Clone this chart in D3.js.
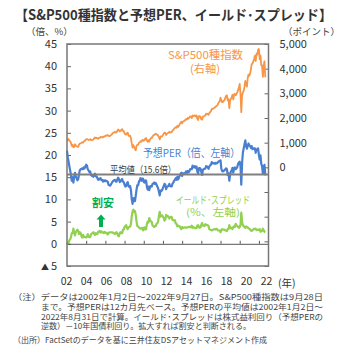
<!DOCTYPE html>
<html>
<head>
<meta charset="utf-8">
<title>S&P500 PER Yield Spread</title>
<style>
  body { margin: 0; background: #fff; }
  svg text { font-family: "Noto Sans CJK JP", "Noto Sans", sans-serif; }
</style>
</head>
<body>
<svg width="343" height="357"></svg>
<script src="https://cdn.jsdelivr.net/npm/d3@7/dist/d3.min.js"></script>
<script>
// monthly values, Jan 2002 .. Sep 2022
const spx = [
  1130, 1107, 1147, 1077, 1067, 990, 870, 916, 815, 820, 936, 880,
  856, 841, 830, 917, 964, 975, 990, 1008, 996, 1051, 1058, 1112,
  1131, 1145, 1126, 1107, 1121, 1141, 1102, 1104, 1115, 1130, 1174, 1212,
  1181, 1204, 1181, 1157, 1192, 1191, 1234, 1220, 1229, 1207, 1249, 1248,
  1280, 1281, 1295, 1311, 1270, 1270, 1277, 1304, 1336, 1378, 1401, 1418,
  1438, 1407, 1421, 1482, 1531, 1503, 1455, 1474, 1527, 1549, 1481, 1468,
  1379, 1331, 1323, 1386, 1400, 1280, 1267, 1283, 1166, 969, 800, 903,
  826, 735, 690, 873, 919, 919, 987, 1021, 1057, 1036, 1096, 1115,
  1074, 1104, 1169, 1187, 1089, 1031, 1102, 1049, 1141, 1183, 1181, 1258,
  1286, 1327, 1326, 1364, 1345, 1321, 1292, 1219, 1131, 1253, 1247, 1258,
  1312, 1366, 1408, 1398, 1310, 1362, 1379, 1407, 1441, 1412, 1416, 1426,
  1498, 1515, 1569, 1598, 1631, 1606, 1686, 1633, 1682, 1757, 1806, 1848,
  1783, 1859, 1872, 1884, 1924, 1960, 1931, 2003, 1972, 2018, 2068, 2059,
  1995, 2105, 2068, 2086, 2107, 2063, 2104, 1972, 1920, 2079, 2080, 2044,
  1940, 1932, 2060, 2065, 2097, 2099, 2174, 2171, 2168, 2126, 2199, 2239,
  2279, 2364, 2363, 2384, 2412, 2423, 2470, 2472, 2519, 2575, 2648, 2674,
  2824, 2714, 2641, 2648, 2705, 2718, 2816, 2902, 2914, 2712, 2760, 2400,
  2704, 2784, 2834, 2946, 2752, 2942, 2980, 2926, 2977, 3038, 3141, 3231,
  3380, 2954, 2237, 2912, 3044, 3100, 3271, 3500, 3363, 3270, 3622, 3756,
  3714, 3811, 3973, 4181, 4204, 4298, 4395, 4523, 4308, 4605, 4567, 4766,
  4796, 4374, 4530, 4132, 4132, 3667, 4130, 4300, 3650
];

const per = [
  21.0, 19.5, 18.5, 17.5, 16.5, 15.5, 14.2, 15.0, 13.8, 15.0, 16.0, 15.2,
  14.8, 14.3, 14.5, 15.5, 16.5, 16.8, 16.8, 17.0, 16.8, 17.2, 17.0, 17.4,
  17.8, 17.6, 16.8, 16.5, 16.2, 16.3, 15.5, 15.3, 15.3, 15.1, 15.4, 15.8,
  15.2, 15.2, 14.8, 14.4, 14.7, 14.5, 14.8, 14.4, 14.4, 14.0, 14.3, 14.1,
  14.3, 14.1, 14.1, 14.0, 13.3, 13.2, 13.1, 13.4, 13.7, 14.0, 14.2, 14.3,
  14.4, 14.0, 14.0, 14.5, 14.9, 14.6, 13.9, 14.0, 14.4, 14.6, 14.0, 13.9,
  13.3, 12.9, 13.0, 13.6, 13.9, 13.0, 12.8, 13.0, 12.0, 10.0, 9.0, 10.2,
  10.3, 9.6, 10.8, 12.2, 13.2, 13.2, 14.0, 14.3, 14.8, 14.2, 14.6, 14.7,
  13.9, 13.8, 14.3, 14.2, 12.8, 12.2, 12.9, 12.1, 12.9, 13.0, 12.9, 13.5,
  13.6, 13.8, 13.5, 13.7, 13.3, 12.9, 12.5, 11.7, 10.9, 12.0, 11.9, 12.1,
  12.6, 13.0, 13.5, 13.3, 12.3, 12.8, 12.9, 13.1, 13.5, 13.0, 12.9, 12.9,
  13.6, 13.8, 14.2, 14.4, 14.8, 14.4, 15.1, 14.5, 14.9, 15.4, 15.8, 16.0,
  15.3, 15.9, 15.8, 15.8, 16.0, 16.3, 16.0, 16.4, 16.1, 16.3, 16.8, 16.8,
  16.8, 17.6, 17.3, 17.2, 17.5, 17.1, 17.4, 16.3, 15.8, 17.0, 17.1, 16.9,
  16.2, 15.5, 16.7, 16.8, 16.9, 16.9, 17.5, 17.4, 17.3, 16.9, 17.4, 17.7,
  17.8, 18.4, 18.1, 18.1, 18.2, 18.0, 18.2, 18.1, 18.2, 18.4, 18.6, 18.6,
  18.8, 16.9, 16.4, 16.3, 16.5, 16.5, 16.8, 17.0, 16.8, 15.5, 15.9, 14.2,
  15.6, 16.3, 16.5, 17.1, 16.0, 17.0, 17.2, 16.8, 17.0, 17.3, 18.0, 18.3,
  18.5, 17.4, 13.3, 18.2, 20.5, 21.5, 22.4, 23.3, 22.0, 21.4, 22.0, 22.6,
  22.2, 22.0, 21.6, 22.0, 21.3, 21.5, 21.4, 21.5, 20.5, 21.3, 21.3, 21.5,
  20.0, 19.0, 19.9, 18.0, 17.5, 15.8, 17.3, 17.8, 15.4
];

const spread = [
  -0.2, 0.3, 0.2, 0.8, 1.0, 1.5, 2.4, 2.4, 3.4, 2.5, 1.9, 2.6,
  2.9, 3.2, 2.9, 2.2, 2.6, 2.5, 1.8, 1.4, 2.0, 1.5, 1.6, 1.5,
  1.4, 1.6, 2.2, 1.6, 1.5, 1.5, 2.1, 2.3, 2.4, 2.6, 2.3, 2.0,
  2.4, 2.2, 2.2, 2.7, 2.8, 2.9, 2.5, 2.8, 2.6, 2.6, 2.4, 2.7,
  2.5, 2.5, 2.3, 2.1, 2.5, 2.5, 2.6, 2.6, 2.6, 2.5, 2.5, 2.3,
  2.2, 2.5, 2.6, 2.3, 1.8, 1.7, 2.4, 2.6, 2.4, 2.4, 3.2, 3.2,
  3.8, 4.0, 4.2, 3.6, 3.3, 3.7, 3.8, 3.9, 4.5, 6.2, 7.3, 7.7,
  7.2, 7.4, 6.5, 5.0, 4.0, 3.9, 3.7, 3.5, 3.4, 3.5, 3.6, 3.0,
  3.6, 3.7, 3.2, 3.3, 4.5, 5.0, 4.8, 5.8, 5.2, 5.1, 4.9, 4.1,
  4.0, 3.8, 4.0, 4.0, 4.5, 4.6, 5.0, 6.3, 7.2, 6.1, 6.3, 6.4,
  6.1, 5.8, 5.2, 5.5, 6.5, 6.2, 6.3, 6.0, 5.7, 6.0, 6.1, 6.0,
  5.4, 5.3, 5.2, 5.3, 4.6, 4.5, 3.9, 4.1, 4.0, 3.9, 3.6, 3.3,
  3.8, 3.6, 3.6, 3.7, 3.7, 3.6, 3.7, 3.7, 3.8, 3.8, 3.7, 3.8,
  4.1, 3.6, 3.8, 3.7, 3.5, 3.5, 3.5, 4.1, 4.2, 3.7, 3.6, 3.7,
  4.3, 4.7, 4.1, 4.1, 4.0, 4.4, 4.3, 4.2, 4.2, 4.0, 3.3, 3.2,
  3.1, 3.0, 3.1, 3.2, 3.3, 3.3, 3.2, 3.4, 3.2, 3.0, 3.0, 3.0,
  2.6, 3.1, 3.3, 3.2, 3.2, 3.2, 3.0, 3.0, 2.9, 3.3, 3.3, 4.2,
  3.7, 3.5, 3.6, 3.3, 3.8, 3.9, 3.8, 4.5, 4.2, 4.0, 3.8, 3.6,
  3.8, 4.3, 7.0, 4.9, 4.2, 3.9, 3.9, 3.6, 3.9, 3.8, 3.7, 3.5,
  3.4, 3.2, 3.0, 2.9, 3.1, 3.2, 3.4, 3.3, 3.4, 3.1, 3.2, 3.1,
  3.2, 3.3, 2.7, 2.8, 2.9, 3.4, 3.1, 2.7, 2.6
];

const avgPer = 15.6;
const leftTicks = [45, 40, 35, 30, 25, 20, 15, 10, 5, 0, -5];
const rightTicks = [5000, 4000, 3000, 2000, 1000, 0];
const rightMinor = [-1000, -2000, -3000, -4000];
const yearTicks = [2004, 2006, 2008, 2010, 2012, 2014, 2016, 2018, 2020, 2022];
const yearLabels = ["02", "04", "06", "08", "10", "12", "14", "16", "18", "20", "22"];

const notes = [
  "（注）データは2002年1月2日～2022年9月27日。S&P500種指数は9月28日",
  "まで。予想PERは12カ月先ベース。予想PERの平均値は2002年1月2日～",
  "2022年8月31日で計算。イールド･スプレッドは株式益利回り（予想PERの",
  "逆数）－10年国債利回り。拡大すれば割安と判断される。",
  "（出所）FactSetのデータを基に三井住友DSアセットマネジメント作成"
];

const svg = d3.select("svg");
const plot = {left: 67, right: 268.5, top: 44, bottom: 266};

const toSeries = arr => arr.map((v, i) => ({date: new Date(2002, i, 1), v: v}));

const x = d3.scaleTime()
  .domain([new Date(2002, 0, 1), new Date(2023, 0, 1)])
  .range([plot.left, plot.right]);
const yL = d3.scaleLinear().domain([-5, 45]).range([plot.bottom, plot.top]);
const yR = d3.scaleLinear().domain([-4000, 5000]).range([plot.bottom, plot.top]);
const xLab = d3.scalePoint().domain(yearLabels).range([66, 266]);

// title + units
svg.append("text")
  .attr("x", 15).attr("y", 19.5)
  .attr("font-size", 14).attr("font-weight", "bold").attr("fill", "#333")
  .attr("textLength", 317).attr("lengthAdjust", "spacingAndGlyphs")
  .text("【S&P500種指数と予想PER、イールド･スプレッド】");
svg.append("text").attr("x", 26).attr("y", 34.5)
  .attr("font-size", 9.5).attr("fill", "#444").text("（倍、%）");
svg.append("text").attr("x", 283).attr("y", 34.5)
  .attr("font-size", 9.5).attr("fill", "#444").text("（ポイント）");

// left axis labels + inward ticks
const axL = svg.append("g").attr("transform", `translate(${plot.left},0)`)
  .call(d3.axisLeft(yL).tickValues(leftTicks).tickSize(0).tickPadding(10)
    .tickFormat(d => d < 0 ? "▲" + Math.abs(d) : d));
axL.select(".domain").remove();
axL.selectAll("text").attr("font-size", 11).attr("fill", "#333")
  .attr("font-family", "Noto Sans CJK JP");
axL.selectAll(".tick").filter(d => d < 0).select("text")
  .text(null)
  .call(t => t.append("tspan").attr("font-size", 8).text("▲ "))
  .call(t => t.append("tspan").text("5"));

const tkL = svg.append("g").attr("transform", `translate(${plot.left},0)`)
  .call(d3.axisRight(yL).tickValues(leftTicks).tickSize(4).tickFormat(""));
tkL.select(".domain").remove();
tkL.selectAll("line").attr("stroke", "#666");

// right axis labels + inward ticks
const axR = svg.append("g").attr("transform", `translate(${plot.right},0)`)
  .call(d3.axisRight(yR).tickValues(rightTicks).tickSize(0).tickPadding(11)
    .tickFormat(d3.format(",")));
axR.select(".domain").remove();
axR.selectAll("text").attr("font-size", 11).attr("fill", "#333")
  .attr("font-family", "Noto Sans CJK JP");

const tkR = svg.append("g").attr("transform", `translate(${plot.right},0)`)
  .call(d3.axisLeft(yR).tickValues(rightTicks.concat(rightMinor)).tickSize(4).tickFormat(""));
tkR.select(".domain").remove();
tkR.selectAll("line").attr("stroke", "#666");

// year labels
const axX = svg.append("g").attr("transform", "translate(0,278)")
  .call(d3.axisBottom(xLab).tickSize(0).tickPadding(0));
axX.select(".domain").remove();
axX.selectAll("text").attr("font-size", 10.5).attr("fill", "#333")
  .attr("font-family", "Noto Sans CJK JP");
svg.append("text").attr("x", 278).attr("y", 287)
  .attr("font-size", 10.5).attr("fill", "#333").text("(年)");

// lines
const lineL = d3.line().x(d => x(d.date)).y(d => yL(d.v));
const lineR = d3.line().x(d => x(d.date)).y(d => yR(d.v));

svg.append("path").datum(toSeries(spx))
  .attr("d", lineR).attr("fill", "none")
  .attr("stroke", "#F79646").attr("stroke-width", 1.8).attr("stroke-linejoin", "round");
svg.append("path").datum(toSeries(spread))
  .attr("d", lineL).attr("fill", "none")
  .attr("stroke", "#92D050").attr("stroke-width", 2.2).attr("stroke-linejoin", "round");
svg.append("path").datum(toSeries(per))
  .attr("d", lineL).attr("fill", "none")
  .attr("stroke", "#4A7FD0").attr("stroke-width", 2.2).attr("stroke-linejoin", "round");

// zero line with year ticks
const ax0 = svg.append("g").attr("transform", `translate(0,${yL(0)})`)
  .call(d3.axisTop(x).tickValues(yearTicks.map(y => new Date(y, 0, 1)))
    .tickSize(3).tickSizeOuter(0).tickFormat(""));
ax0.selectAll("line, path").attr("stroke", "#555").attr("stroke-width", 1);

// average PER
svg.append("line")
  .attr("x1", plot.left).attr("x2", plot.right)
  .attr("y1", yL(avgPer)).attr("y2", yL(avgPer))
  .attr("stroke", "#808080").attr("stroke-width", 2);

// frame
svg.append("rect")
  .attr("x", plot.left).attr("y", plot.top)
  .attr("width", plot.right - plot.left).attr("height", plot.bottom - plot.top)
  .attr("fill", "none").attr("stroke", "#777").attr("stroke-width", 1.5);

// annotations
function label(txt, x0, y0, len, color, size, weight) {
  const t = svg.append("text").attr("x", x0).attr("y", y0)
    .attr("font-size", size).attr("fill", color).text(txt);
  if (len) t.attr("textLength", len).attr("lengthAdjust", "spacingAndGlyphs");
  if (weight) t.attr("font-weight", weight);
  return t;
}
label("S&P500種指数", 168, 59, 75, "#F79646", 11);
label("(右軸)", 190, 73, 30, "#F79646", 11);
label("予想PER（倍、左軸）", 143, 156.5, 97, "#4A7FD0", 11);
label("平均値（15.6倍）", 110, 173, 66, "#404040", 9.5);
label("イールド･スプレッド", 176, 203.5, 74, "#92D050", 10);
label("(%、左軸)", 186, 215.5, 54, "#92D050", 10);
label("割安", 92, 206.5, null, "#00B050", 11, "bold");

// arrow
svg.append("path")
  .attr("d", "M101,214.5 L105.5,219.5 L103,219.5 L103,227 L99,227 L99,219.5 L96.5,219.5 Z")
  .attr("fill", "#00B050");

// notes
const noteX = [13, 41, 41, 41, 13];
const noteY = [300, 310, 319.5, 329, 343];
const noteLen = [310, 282, 282, 210, 254];
svg.append("g").selectAll("text")
  .data(notes)
  .join("text")
  .attr("x", (d, i) => noteX[i])
  .attr("y", (d, i) => noteY[i])
  .attr("textLength", (d, i) => noteLen[i])
  .attr("lengthAdjust", "spacingAndGlyphs")
  .attr("font-size", 8.2).attr("fill", "#444")
  .text(d => d);
</script>
</body>
</html>
